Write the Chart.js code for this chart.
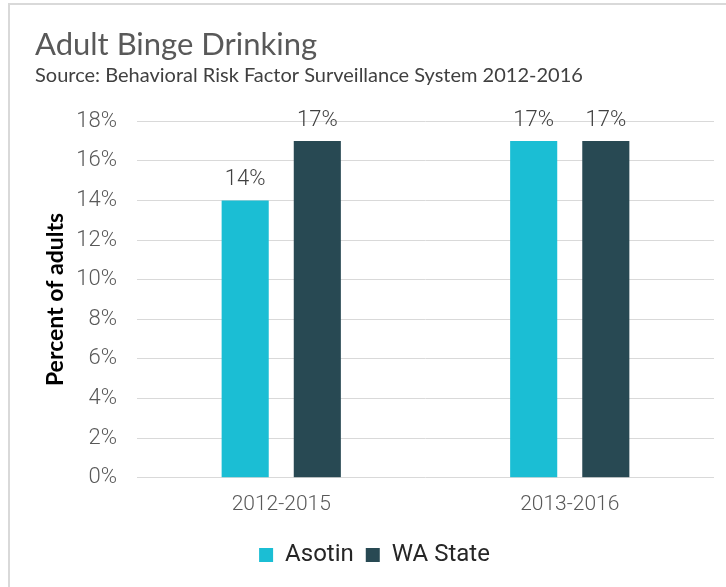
<!DOCTYPE html>
<html>
<head>
<meta charset="utf-8">
<script src="https://cdn.jsdelivr.net/npm/chart.js@4.4.1/dist/chart.umd.min.js"></script>
<style>
  html, body { margin: 0; padding: 0; background: #fff; overflow: hidden; }
  #frame { position: absolute; left: 8px; top: 3px; width: 740px; height: 600px; border: 2px solid #d9d9d9; box-sizing: border-box; }
  #wrap { position: absolute; left: 0; top: 0; width: 726px; height: 587px; }
</style>
</head>
<body>
<div id="frame"></div>
<div id="wrap"><canvas id="c" width="726" height="587"></canvas></div>
<script>
const categories = ["2012-2015", "2013-2016"];
const seriesNames = ["Asotin", "WA State"];
const asotinValues = [14, 17];
const waStateValues = [17, 17];
const yTickValues = [0, 2, 4, 6, 8, 10, 12, 14, 16, 18];

const titleText = "Adult Binge Drinking";
const subtitleText = "Source: Behavioral Risk Factor Surveillance System 2012-2016";
const yAxisTitle = "Percent of adults";

const dataLabels = {
  id: 'dataLabels',
  afterDatasetsDraw(chart) {
    const ctx = chart.ctx;
    ctx.save();
    ctx.font = '300 22px Roboto';
    ctx.fillStyle = '#404040';
    ctx.textAlign = 'center';
    ctx.textBaseline = 'alphabetic';
    chart.data.datasets.forEach((ds, i) => {
      const meta = chart.getDatasetMeta(i);
      meta.data.forEach((el, j) => {
        ctx.fillText(ds.data[j] + '%', el.x, el.y - 15);
      });
    });
    ctx.restore();
  }
};

new Chart(document.getElementById('c'), {
  type: 'bar',
  data: {
    labels: categories,
    datasets: [
      { label: seriesNames[0], data: asotinValues, backgroundColor: '#1BBED4', categoryPercentage: 0.5, barPercentage: 0.653 },
      { label: seriesNames[1], data: waStateValues, backgroundColor: '#284953', categoryPercentage: 0.5, barPercentage: 0.653 }
    ]
  },
  options: {
    responsive: false,
    animation: false,
    layout: { padding: { left: 35, right: 12, top: 26, bottom: 10 } },
    plugins: {
      title: {
        display: true, text: titleText, align: 'start',
        color: '#595959', font: { family: 'Lato', size: 31, weight: '400' },
        padding: { top: 0, bottom: 0 }
      },
      subtitle: {
        display: true, text: subtitleText, align: 'start',
        color: '#404040', font: { family: 'Lato', size: 20, weight: '400' },
        padding: { top: 0, bottom: 34 }
      },
      legend: {
        position: 'bottom',
        labels: {
          boxWidth: 14, boxHeight: 14, padding: 12,
          color: '#262626', font: { family: 'Roboto', size: 24, weight: '400' }
        }
      },
      tooltip: { enabled: false }
    },
    scales: {
      x: {
        grid: { display: false, drawTicks: false },
        border: { display: false },
        ticks: { color: '#595959', font: { family: 'Roboto', size: 21, weight: '300' }, padding: 14 }
      },
      y: {
        min: 0, max: 18,
        afterBuildTicks(scale) { scale.ticks = yTickValues.map(v => ({ value: v })); },
        afterFit(scale) { scale.width = 102; },
        grid: { color: '#d9d9d9', drawTicks: false, tickLength: 0 },
        border: { display: false },
        ticks: {
          color: '#595959', font: { family: 'Roboto', size: 22, weight: '300' }, padding: 20,
          callback: v => v + '%'
        },
        title: {
          display: true, text: yAxisTitle, color: '#000000',
          font: { family: 'Lato', size: 23, weight: 'bold' },
          padding: { top: 7, bottom: 0 }
        }
      }
    }
  },
  plugins: [dataLabels]
});
</script>
</body>
</html>
